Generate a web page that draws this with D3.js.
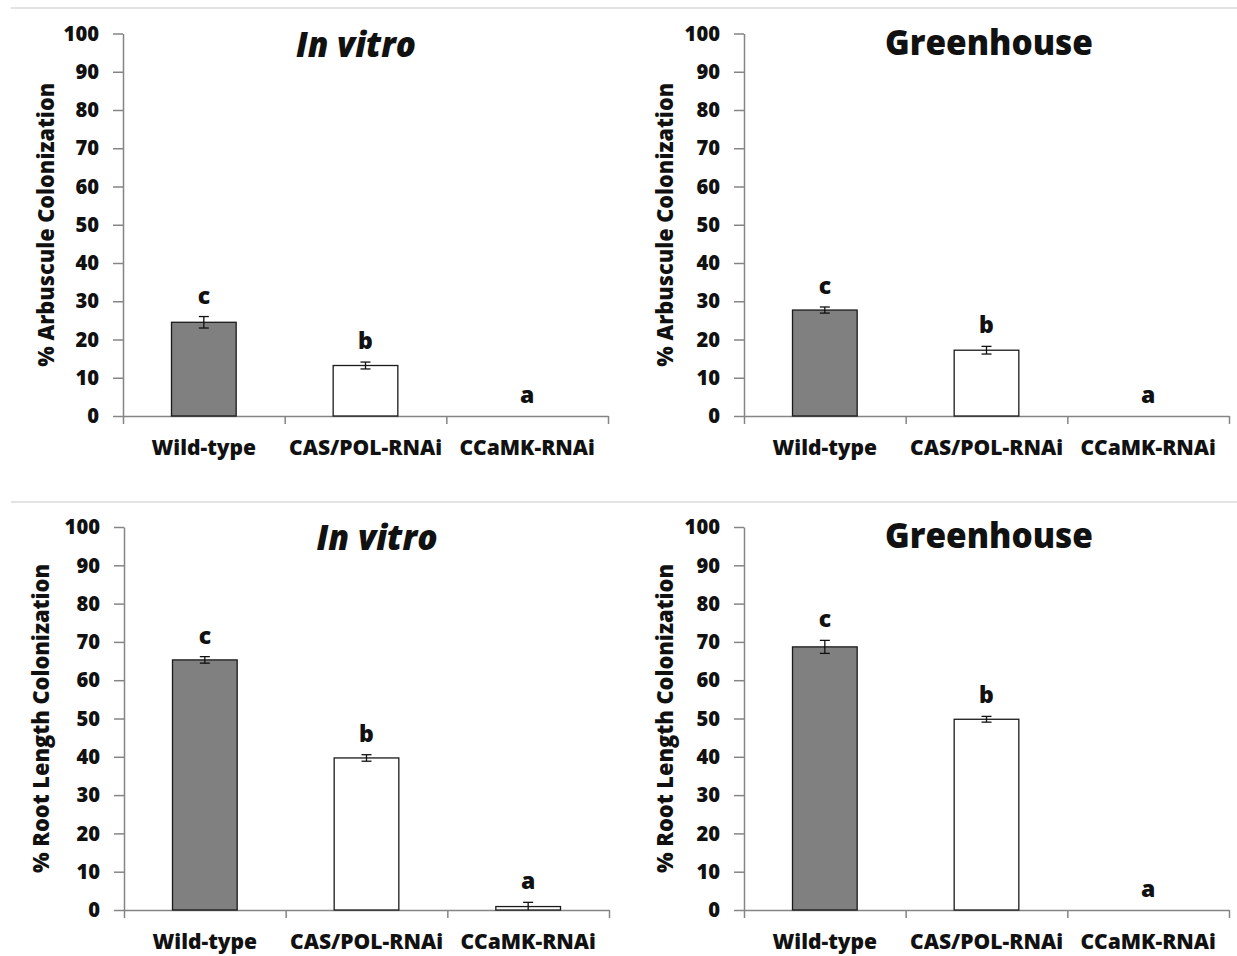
<!DOCTYPE html>
<html>
<head>
<meta charset="utf-8">
<script src="https://cdn.jsdelivr.net/npm/d3@7"></script>
<style>
  html, body { margin: 0; padding: 0; background: #ffffff; }
  svg { display: block; }
  text { font-family: "Open Sans", "Noto Sans", sans-serif; font-weight: 800; fill: #111; }
</style>
</head>
<body>
<svg id="chart" width="1237" height="956"></svg>
<script>
// ---------- data ----------
const categories = ["Wild-type", "CAS/POL-RNAi", "CCaMK-RNAi"];
const yTicks = [0, 10, 20, 30, 40, 50, 60, 70, 80, 90, 100];
const sigLetters = ["c", "b", "a"];
const barFills = ["#808080", "#ffffff", "#ffffff"];

const arbInVitro = [24.5, 13.2, 0];
const arbInVitroErr = [1.5, 0.9, 0];
const arbGreenhouse = [27.7, 17.2, 0];
const arbGreenhouseErr = [0.8, 1.0, 0];
const rootInVitro = [65.3, 39.7, 0.9];
const rootInVitroErr = [0.85, 0.85, 1.1];
const rootGreenhouse = [68.7, 49.8, 0];
const rootGreenhouseErr = [1.7, 0.75, 0];

const panelTitles = ["In vitro", "Greenhouse", "In vitro", "Greenhouse"];
const yLabels = ["% Arbuscule Colonization", "% Arbuscule Colonization",
                 "% Root Length Colonization", "% Root Length Colonization"];

// ---------- layout ----------
const FONT = '"Open Sans", "Noto Sans", sans-serif';
const panels = [
  { values: arbInVitro, errs: arbInVitroErr, title: panelTitles[0], italic: true, ylabel: yLabels[0],
    x0: 123, x1: 608, yTop: 33.5, yBot: 416, tx: 356, ty: 57, tw: 120, lx: 45, lw: 284 },
  { values: arbGreenhouse, errs: arbGreenhouseErr, title: panelTitles[1], italic: false, ylabel: yLabels[1],
    x0: 744, x1: 1229, yTop: 33.5, yBot: 416, tx: 989, ty: 55, tw: 208, lx: 664, lw: 284 },
  { values: rootInVitro, errs: rootInVitroErr, title: panelTitles[2], italic: true, ylabel: yLabels[2],
    x0: 124, x1: 609, yTop: 527, yBot: 910, tx: 377, ty: 550, tw: 121, lx: 40, lw: 309 },
  { values: rootGreenhouse, errs: rootGreenhouseErr, title: panelTitles[3], italic: false, ylabel: yLabels[3],
    x0: 744, x1: 1229, yTop: 527, yBot: 910, tx: 989, ty: 548, tw: 208, lx: 664, lw: 309 }
];

const svg = d3.select("#chart");
const axisColor = "#858585";

// separator lines
svg.append("line").attr("x1", 11).attr("x2", 1237).attr("y1", 8).attr("y2", 8)
  .attr("stroke", "#e3e3e3").attr("stroke-width", 2);
svg.append("line").attr("x1", 11).attr("x2", 1237).attr("y1", 502).attr("y2", 502)
  .attr("stroke", "#e3e3e3").attr("stroke-width", 2);

panels.forEach(p => {
  const g = svg.append("g");
  const y = d3.scaleLinear().domain([0, 100]).range([p.yBot, p.yTop]);
  const x = d3.scaleBand().domain(categories).range([p.x0, p.x1])
    .paddingInner(0.6).paddingOuter(0.3);
  const xEdge = d3.scaleLinear().domain([0, categories.length]).range([p.x0, p.x1]);

  // y axis
  const yAxis = d3.axisLeft(y).tickValues(yTicks).tickSize(10).tickPadding(14).tickSizeOuter(0);
  const ga = g.append("g").attr("transform", `translate(${p.x0},0)`).call(yAxis);
  ga.select(".domain").attr("stroke", axisColor).attr("stroke-width", 1.5);
  ga.selectAll(".tick line").attr("stroke", axisColor).attr("stroke-width", 1.5);
  ga.selectAll(".tick text").attr("font-size", 21).attr("font-family", FONT)
    .attr("font-weight", 800).attr("fill", "#111")
    .attr("textLength", d => String(d).length * 11.8)
    .attr("lengthAdjust", "spacingAndGlyphs");

  // x axis with boundary ticks
  const xAxis = d3.axisBottom(xEdge).tickValues(d3.range(categories.length + 1))
    .tickSize(8).tickSizeOuter(0).tickFormat("");
  const gx = g.append("g").attr("transform", `translate(0,${p.yBot})`).call(xAxis);
  gx.select(".domain").attr("stroke", axisColor).attr("stroke-width", 1.5);
  gx.selectAll(".tick line").attr("stroke", axisColor).attr("stroke-width", 1.5);

  // category labels
  g.selectAll("text.cat").data(categories).join("text")
    .attr("class", "cat")
    .attr("x", d => x(d) + x.bandwidth() / 2)
    .attr("y", p.yBot + 39)
    .attr("text-anchor", "middle")
    .attr("font-size", 21)
    .text(d => d);

  // bars
  const data = categories.map((c, i) => ({ c, v: p.values[i], e: p.errs[i], i }));
  g.selectAll("rect.bar").data(data.filter(d => d.v > 0)).join("rect")
    .attr("class", "bar")
    .attr("x", d => x(d.c))
    .attr("width", x.bandwidth())
    .attr("y", d => y(d.v))
    .attr("height", d => y(0) - y(d.v))
    .attr("fill", d => barFills[d.i])
    .attr("stroke", "#1a1a1a")
    .attr("stroke-width", 1.3);

  // error bars
  const cap = 5;
  data.filter(d => d.e > 0).forEach(d => {
    const cx = x(d.c) + x.bandwidth() / 2;
    const lo = Math.max(0, d.v - d.e), hi = d.v + d.e;
    g.append("line").attr("x1", cx).attr("x2", cx).attr("y1", y(lo)).attr("y2", y(hi))
      .attr("stroke", "#111").attr("stroke-width", 1.3);
    g.append("line").attr("x1", cx - cap).attr("x2", cx + cap).attr("y1", y(hi)).attr("y2", y(hi))
      .attr("stroke", "#111").attr("stroke-width", 1.3);
    if (d.v - d.e > 0) {
      g.append("line").attr("x1", cx - cap).attr("x2", cx + cap).attr("y1", y(lo)).attr("y2", y(lo))
        .attr("stroke", "#111").attr("stroke-width", 1.3);
    }
  });

  // significance letters
  g.selectAll("text.sig").data(data).join("text")
    .attr("class", "sig")
    .attr("x", d => x(d.c) + x.bandwidth() / 2)
    .attr("y", d => y(d.v + d.e) - 13)
    .attr("text-anchor", "middle")
    .attr("font-size", 23)
    .text(d => sigLetters[d.i]);

  // title
  g.append("text")
    .attr("x", p.tx).attr("y", p.ty)
    .attr("text-anchor", "middle")
    .attr("font-size", 36)
    .attr("font-style", p.italic ? "italic" : "normal")
    .attr("textLength", p.tw)
    .attr("lengthAdjust", "spacingAndGlyphs")
    .text(p.title);

  // y label
  const cy = (p.yTop + p.yBot) / 2;
  g.append("text")
    .attr("transform", `translate(${p.lx},${cy}) rotate(-90)`)
    .attr("text-anchor", "middle")
    .attr("dominant-baseline", "central")
    .attr("font-size", 22)
    .attr("textLength", p.lw)
    .attr("lengthAdjust", "spacingAndGlyphs")
    .text(p.ylabel);
});
</script>
</body>
</html>
